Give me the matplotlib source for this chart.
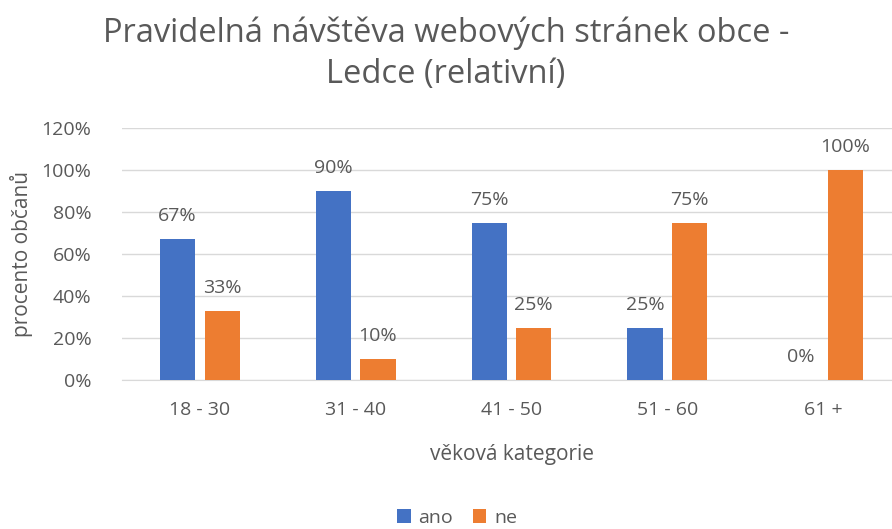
import numpy as np
import matplotlib.pyplot as plt
from matplotlib.ticker import FuncFormatter

categories = ['18 - 30', '31 - 40', '41 - 50', '51 - 60', '61 +']
ano = [67, 90, 75, 25, 0]
ne = [33, 10, 25, 75, 100]

blue = '#4472C4'
orange = '#ED7D31'
text_col = '#595959'

plt.rcParams['font.family'] = ['Open Sans', 'DejaVu Sans']

fig = plt.figure(figsize=(8.92, 5.29), dpi=100)
ax = fig.add_axes([122 / 892, 1 - 380 / 529, 779 / 892, 252 / 529])

x = np.arange(len(categories))
w = 0.225
off = 0.143
b1 = ax.bar(x - off, ano, w, color=blue, label='ano', zorder=3)
b2 = ax.bar(x + off, ne, w, color=orange, label='ne', zorder=3)

for bars, vals in ((b1, ano), (b2, ne)):
    for rect, v in zip(bars, vals):
        ax.annotate(f'{v}%', (rect.get_x() + rect.get_width() / 2, v),
                    xytext=(0, 10), textcoords='offset points',
                    ha='center', va='bottom', fontsize=14, color=text_col)

ax.set_xlim(-0.5, len(categories) - 0.5)
ax.set_ylim(0, 120)
ax.set_yticks(range(0, 121, 20))
ax.yaxis.set_major_formatter(FuncFormatter(lambda v, p: f'{v:.0f}%'))
ax.set_xticks(x)
ax.set_xticklabels(categories)
ax.tick_params(axis='both', length=0, labelsize=14, labelcolor=text_col)
ax.tick_params(axis='y', pad=22)
ax.tick_params(axis='x', pad=15)
ax.grid(axis='y', color='#D9D9D9', linewidth=1, zorder=0)
for s in ['top', 'right', 'left']:
    ax.spines[s].set_visible(False)
ax.spines['bottom'].set_color('#D9D9D9')

ax.set_xlabel('věková kategorie', fontsize=15, color=text_col, labelpad=18)
ax.set_ylabel('procento občanů', fontsize=15, color=text_col, labelpad=6)

fig.text(0.5, 1 - 54 / 529, 'Pravidelná návštěva webových stránek obce -\nLedce (relativní)',
         ha='center', va='center', fontsize=23.5, color=text_col, linespacing=1.3)

fig.legend(handles=[b1, b2], loc='center', bbox_to_anchor=(457 / 892, 1 - 518 / 529),
           ncol=2, frameon=False, fontsize=14, labelcolor=text_col,
           handlelength=0.7, handleheight=0.7, handletextpad=0.4, columnspacing=1.0)

fig.savefig('out.png', dpi=100)
